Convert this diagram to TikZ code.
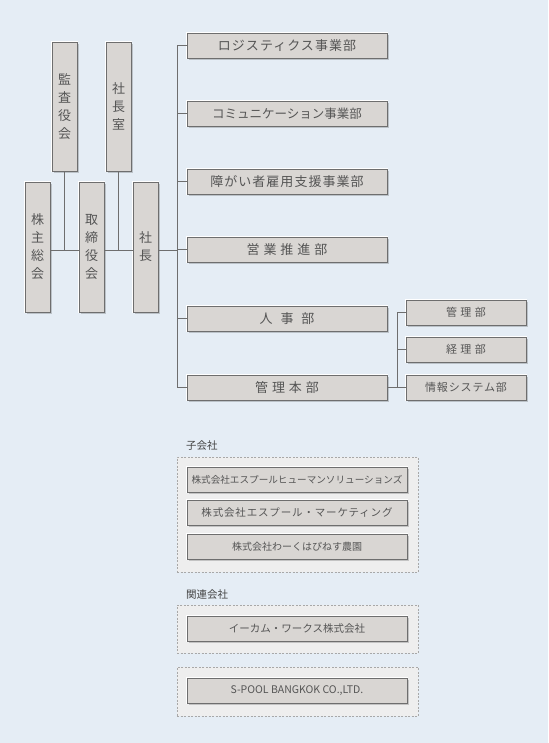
\documentclass[tikz,border=0pt]{standalone}
\usepackage{fontspec}
\setmainfont{Noto Sans CJK JP}
\newfontfamily\spaced[LetterSpace=8]{Noto Sans CJK JP}
\usetikzlibrary{shadows}
\definecolor{bgblue}{HTML}{E5EDF5}
\definecolor{boxgrey}{HTML}{D9D6D3}
\definecolor{boxline}{HTML}{6E6E6E}
\definecolor{textgrey}{HTML}{555555}
\definecolor{framegrey}{HTML}{EEEEEE}
\definecolor{framedash}{HTML}{A8A8A8}

\begin{document}
\begin{tikzpicture}[x=1pt, y=-1pt,
    unit/.style={rectangle, fill=boxgrey, draw=boxline, line width=0.8pt, text=textgrey, inner sep=0pt,
      drop shadow={shadow xshift=2pt, shadow yshift=-2pt, fill=black, opacity=0.18},
      preaction={draw=white, line width=2.6pt}},
    vunit/.style={unit, minimum width=25pt, minimum height=129pt, align=center, font=\fontsize{13}{18}\selectfont},
    dept/.style={unit, minimum width=200pt, minimum height=25pt, font=\spaced\fontsize{13}{15}\selectfont},
    subdept/.style={unit, minimum width=120pt, minimum height=25pt, font=\spaced\fontsize{11}{13}\selectfont},
    company/.style={unit, minimum width=220pt, minimum height=25pt, font=\fontsize{10.5}{12}\selectfont},
    frame/.style={rectangle, fill=framegrey, draw=framedash, dash pattern=on 2pt off 1.5pt, line width=0.6pt, inner sep=0pt, minimum width=241pt},
    grouplabel/.style={anchor=west, text=textgrey!80!black, inner sep=0pt, font=\fontsize{10.5}{12}\selectfont},
    link/.style={draw=boxline, line width=0.8pt}]
  \path[fill=bgblue, use as bounding box] (0,0) rectangle (548,743);

  \node[vunit] (kansa) at (64.5,106.5) {監\\査\\役\\会};
  \node[vunit] (shitsu) at (118.5,106.5) {社\\長\\室};
  \node[vunit, minimum height=130pt] (kabunushi) at (37.5,247) {株\\主\\総\\会};
  \node[vunit, minimum height=130pt] (torishimari) at (91.5,247) {取\\締\\役\\会};
  \node[vunit, minimum height=130pt] (shacho) at (145.5,247) {社\\長};

  \node[dept] (logi) at (287,45.5) {ロジスティクス事業部};
  \node[dept, font=\fontsize{12.5}{15}\selectfont] (comm) at (287,113.5) {コミュニケーション事業部};
  \node[dept] (shogai) at (287,181.5) {障がい者雇用支援事業部};
  \node[dept] (eigyo) at (287,249.5) {営 業 推 進 部};
  \node[dept] (jinji) at (287,318.5) {人\hspace{0.6em}事\hspace{0.6em}部};
  \node[dept] (kanri) at (287,387.5) {管 理 本 部};

  \node[subdept] (kanribu) at (466,312.5) {管 理 部};
  \node[subdept] (keiri) at (466,349.5) {経 理 部};
  \node[subdept] (joho) at (466,387.5) {情報システム部};

  \coordinate (trunk) at (177,250);
  \coordinate (subtrunk) at (397,387.5);
  \draw[link] ([yshift=-3pt]kabunushi.east) -- ([yshift=-3pt]torishimari.west);
  \draw[link] ([yshift=-3pt]torishimari.east) -- ([yshift=-3pt]shacho.west);
  \draw[link] ([yshift=-3pt]shacho.east) -- (trunk);
  \draw[link] (kansa.south) -- (kansa.south |- trunk);
  \draw[link] (shitsu.south) -- (shitsu.south |- trunk);
  \draw[link] (logi.west -| trunk) -- (kanri.west -| trunk);
  \foreach \d in {logi,comm,shogai,eigyo,jinji,kanri}
    \draw[link] (\d.west -| trunk) -- (\d.west);
  \draw[link] (kanri.east) -- (joho.west);
  \draw[link] (kanribu.west -| subtrunk) -- (subtrunk);
  \foreach \d in {kanribu,keiri}
    \draw[link] (\d.west -| subtrunk) -- (\d.west);

  \node[grouplabel] (kogaisha) at (186,446) {子会社};
  \node[frame, minimum height=115pt] (kogroup) at (297.5,514.5) {};
  \node[company, font=\fontsize{9.6}{12}\selectfont] (human) at (297,479.5) {株式会社エスプールヒューマンソリューションズ};
  \node[company, font=\spaced\fontsize{10.5}{12}\selectfont] (marketing) at (297,512.5) {株式会社エスプール・マーケティング};
  \node[company, font=\fontsize{10}{12}\selectfont] (noen) at (297,546.5) {株式会社わーくはぴねす農園};

  \node[grouplabel] (kanren) at (186,595) {関連会社};
  \node[frame, minimum height=48pt] (kanrengroup) at (297.5,629) {};
  \node[company] (ecom) at (297,628.5) {イーカム・ワークス株式会社};
  \node[frame, minimum height=49pt] (bangkokgroup) at (297.5,691.5) {};
  \node[company] (bangkok) at (297,690.5) {S-POOL BANGKOK CO.,LTD.};
\end{tikzpicture}
\end{document}
